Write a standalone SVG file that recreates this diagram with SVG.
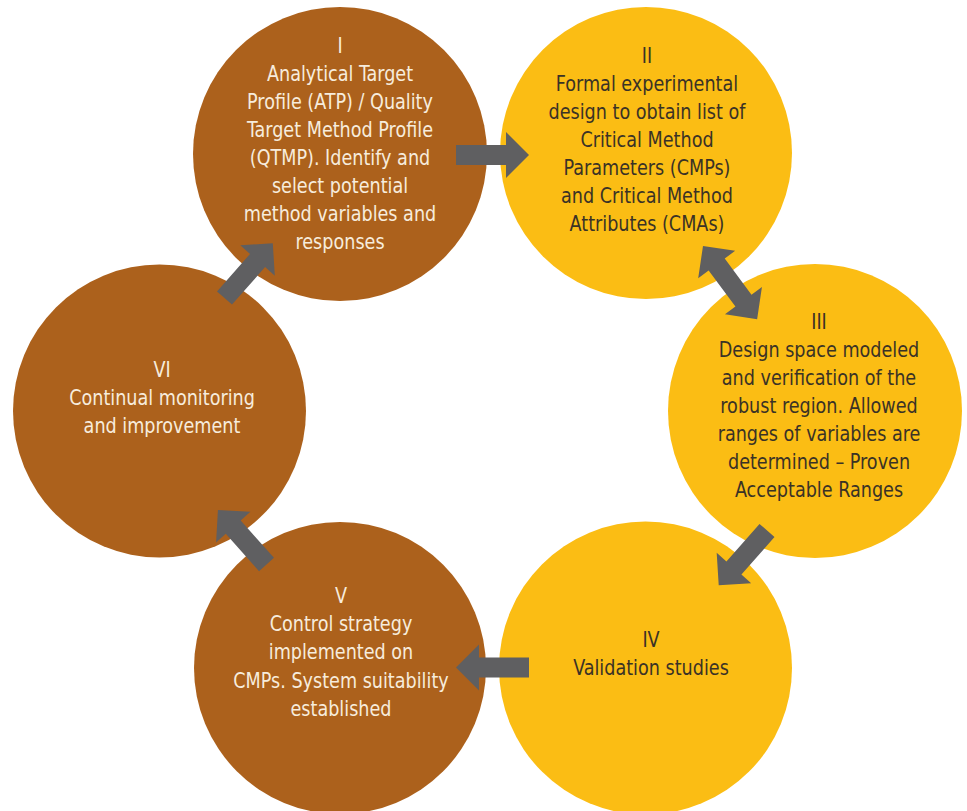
<svg xmlns="http://www.w3.org/2000/svg" width="967" height="811" viewBox="0 0 967 811">
<defs>
<style>
.brown{fill:#ac611c}
.yellow{fill:#fbbd14}
.arrow{fill:#5f5f61}
text{font-family:"DejaVu Sans Condensed","Liberation Sans Narrow",sans-serif;font-size:22px;text-anchor:middle}
.lt{fill:#f7ecdc}
.dk{fill:#3a3226}
</style>
<polygon id="single" points="0,-10 50,-10 50,-23 73,0 50,23 50,10 0,10"/>
<polygon id="double" points="0,0 23,-23 23,-10 68,-10 68,-23 91,0 68,23 68,10 23,10 23,23"/>
</defs>
<rect width="967" height="811" fill="#ffffff"/>
<g id="node-I">
<circle class="brown" cx="340" cy="154" r="147"/>
<text class="lt" transform="translate(340 0) scale(0.89 1)"><tspan x="0" y="53">I</tspan><tspan x="0" y="81">Analytical Target</tspan><tspan x="0" y="109">Profile (ATP) / Quality</tspan><tspan x="0" y="137">Target Method Profile</tspan><tspan x="0" y="165">(QTMP). Identify and</tspan><tspan x="0" y="193">select potential</tspan><tspan x="0" y="221">method variables and</tspan><tspan x="0" y="249">responses</tspan></text>
</g>
<g id="node-II">
<circle class="yellow" cx="646" cy="153" r="146"/>
<text class="dk" transform="translate(647 0) scale(0.89 1)"><tspan x="0" y="63">II</tspan><tspan x="0" y="91">Formal experimental</tspan><tspan x="0" y="119">design to obtain list of</tspan><tspan x="0" y="147">Critical Method</tspan><tspan x="0" y="175">Parameters (CMPs)</tspan><tspan x="0" y="203">and Critical Method</tspan><tspan x="0" y="231">Attributes (CMAs)</tspan></text>
</g>
<g id="node-III">
<circle class="yellow" cx="815" cy="411" r="147"/>
<text class="dk" transform="translate(819 0) scale(0.89 1)"><tspan x="0" y="329">III</tspan><tspan x="0" y="357">Design space modeled</tspan><tspan x="0" y="385">and verification of the</tspan><tspan x="0" y="413">robust region. Allowed</tspan><tspan x="0" y="441">ranges of variables are</tspan><tspan x="0" y="469">determined – Proven</tspan><tspan x="0" y="497">Acceptable Ranges</tspan></text>
</g>
<g id="node-IV">
<circle class="yellow" cx="645.5" cy="668" r="146.5"/>
<text class="dk" transform="translate(651 0) scale(0.89 1)"><tspan x="0" y="647">IV</tspan><tspan x="0" y="675">Validation studies</tspan></text>
</g>
<g id="node-V">
<circle class="brown" cx="340" cy="668" r="146"/>
<text class="lt" transform="translate(341 0) scale(0.89 1)"><tspan x="0" y="603">V</tspan><tspan x="0" y="631">Control strategy</tspan><tspan x="0" y="659">implemented on</tspan><tspan x="0" y="688">CMPs. System suitability</tspan><tspan x="0" y="716">established</tspan></text>
</g>
<g id="node-VI">
<circle class="brown" cx="159.5" cy="411" r="146.5"/>
<text class="lt" transform="translate(162 0) scale(0.89 1)"><tspan x="0" y="377">VI</tspan><tspan x="0" y="405">Continual monitoring</tspan><tspan x="0" y="433">and improvement</tspan></text>
</g>
<g id="connectors" class="arrow">
<use href="#single" transform="translate(456,155)"/>
<use href="#double" transform="translate(703,246) rotate(53.5)"/>
<use href="#single" transform="translate(767,530.5) rotate(131.4)"/>
<use href="#single" transform="translate(529,667.5) rotate(180)"/>
<use href="#single" transform="translate(266.5,564.5) rotate(-131.7)"/>
<use href="#single" transform="translate(224.5,298) rotate(-48.6)"/>
</g>
</svg>
